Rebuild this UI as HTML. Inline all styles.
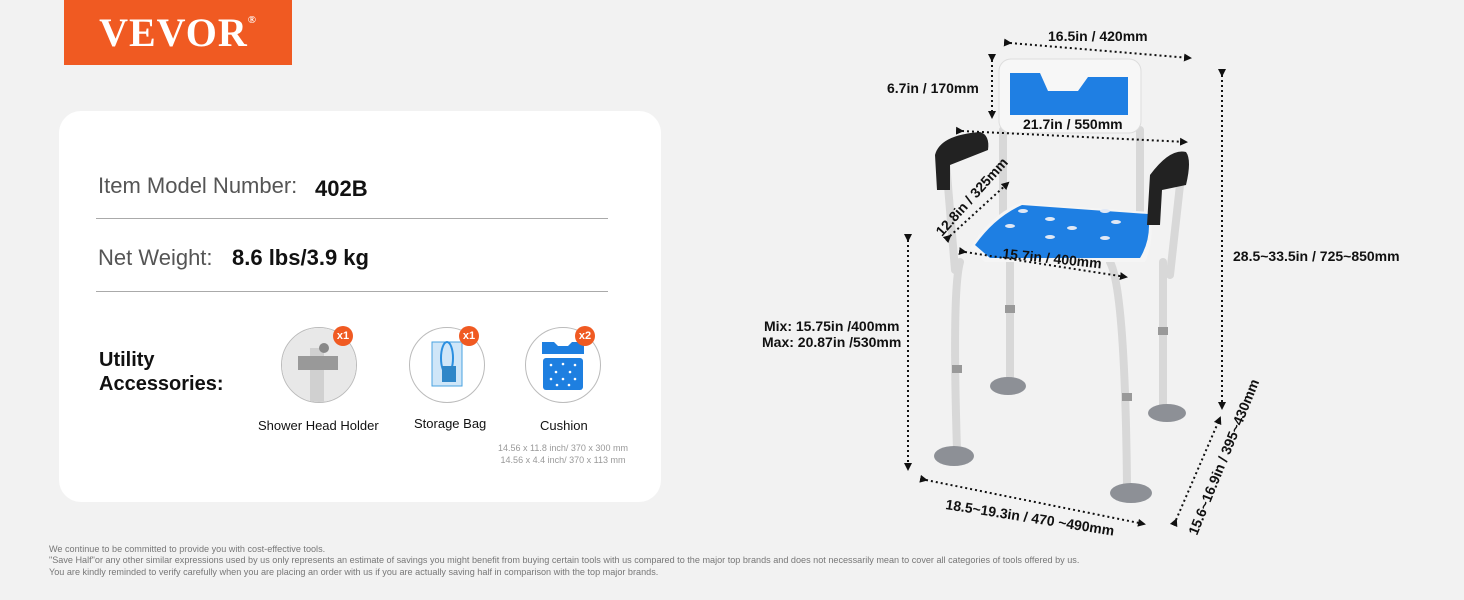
<!DOCTYPE html>
<html><head><meta charset="utf-8"><style>
body{margin:0;width:1464px;height:600px;background:#f2f2f2;font-family:"Liberation Sans",sans-serif;position:relative;overflow:hidden}
.abs{position:absolute}
.logo{left:64px;top:0;width:228px;height:65px;background:#f05a22;color:#fff;font-family:"Liberation Serif",serif;font-weight:bold;font-size:40px;line-height:65px;text-align:center;letter-spacing:1px}
.card{left:59px;top:111px;width:602px;height:391px;background:#fff;border-radius:22px}
.lab{font-size:22px;color:#555}
.val{font-size:22px;font-weight:bold;color:#111}
.hr{height:1px;background:#aaa;left:96px;width:512px}
.util{left:99px;top:348px;font-size:20px;font-weight:bold;line-height:24px;color:#111}
.circ{width:74px;height:74px;border:1.5px solid #bbb;border-radius:50%;background:#fff;overflow:hidden}
.badge{width:20px;height:20px;border-radius:50%;background:#f05a22;color:#fff;font-size:11px;font-weight:bold;text-align:center;line-height:20px}
.cap{font-size:13px;color:#111}
.small{font-size:9px;color:#999;text-align:center;line-height:12px}
.foot{left:49px;top:544px;font-size:9.1px;color:#777;line-height:11.3px;white-space:nowrap}
</style></head><body>
<div class="abs logo">VEVOR<span style="font-size:11px;vertical-align:top;line-height:40px">®</span></div>
<div class="abs card"></div>
<div class="abs lab" style="left:98px;top:173px">Item Model Number:</div>
<div class="abs val" style="left:315px;top:176px">402B</div>
<div class="abs hr" style="top:218px"></div>
<div class="abs lab" style="left:98px;top:245px">Net Weight:</div>
<div class="abs val" style="left:232px;top:245px">8.6 lbs/3.9 kg</div>
<div class="abs hr" style="top:291px"></div>
<div class="abs util">Utility<br>Accessories:</div>

<div class="abs circ" style="left:281px;top:327px"><svg width="74" height="74"><rect x="0" y="0" width="74" height="74" fill="#e8e8e8"/><rect x="28" y="20" width="14" height="60" fill="#d0d0d0"/><rect x="16" y="28" width="40" height="14" fill="#999"/><circle cx="42" cy="20" r="5" fill="#888"/></svg></div>
<div class="abs badge" style="left:333px;top:326px">x1</div>
<div class="abs circ" style="left:409px;top:327px"><svg width="74" height="74"><rect x="22" y="14" width="30" height="44" fill="#cfe6f8" stroke="#4aa3e0"/><ellipse cx="37" cy="30" rx="6" ry="16" fill="none" stroke="#2b8fe0" stroke-width="2"/><rect x="32" y="38" width="14" height="16" fill="#2e86c8"/></svg></div>
<div class="abs badge" style="left:459px;top:326px">x1</div>
<div class="abs circ" style="left:525px;top:327px"><svg width="74" height="74"><path d="M16 14 h12 l4 4 h10 l4 -4 h12 v12 h-42z" fill="#1e7fe0"/><rect x="17" y="30" width="40" height="32" rx="3" fill="#1e7fe0"/><g fill="#fff"><circle cx="25" cy="37" r="1.3"/><circle cx="37" cy="36" r="1.3"/><circle cx="49" cy="37" r="1.3"/><circle cx="30" cy="44" r="1.3"/><circle cx="44" cy="44" r="1.3"/><circle cx="25" cy="51" r="1.3"/><circle cx="37" cy="51" r="1.3"/><circle cx="49" cy="51" r="1.3"/><circle cx="31" cy="57" r="1.3"/><circle cx="43" cy="57" r="1.3"/></g></svg></div>
<div class="abs badge" style="left:575px;top:326px">x2</div>
<div class="abs cap" style="left:258px;top:418px">Shower Head Holder</div>
<div class="abs cap" style="left:414px;top:416px">Storage Bag</div>
<div class="abs cap" style="left:540px;top:418px">Cushion</div>
<div class="abs small" style="left:488px;top:442px;width:150px">14.56 x 11.8 inch/ 370 x 300 mm<br>14.56 x 4.4 inch/ 370 x 113 mm</div>

<div class="abs foot">We continue to be committed to provide you with cost-effective tools.<br>"Save Half"or any other similar expressions used by us only represents an estimate of savings you might benefit from buying certain tools with us compared to the major top brands and does not necessarily mean to cover all categories of tools offered by us.<br>You are kindly reminded to verify carefully when you are placing an order with us if you are actually saving half in comparison with the top major brands.</div>

<svg class="abs" style="left:0;top:0" width="1464" height="600">
<defs><marker id="a" markerWidth="8" markerHeight="8" refX="6" refY="4" orient="auto" markerUnits="userSpaceOnUse"><path d="M0,0 L8,4 L0,8z" fill="#111"/></marker></defs>
<g stroke="#d8d8d8" stroke-width="8" stroke-linecap="round" fill="none">
<line x1="1010" y1="262" x2="1010" y2="380"/><line x1="1163" y1="262" x2="1163" y2="405"/>
<path d="M960 262 Q952 290 957 450"/><path d="M1110 262 Q1125 290 1127 485"/>
<line x1="1003" y1="130" x2="1003" y2="220"/><line x1="1140" y1="130" x2="1140" y2="220"/>
<path d="M945 150 L955 270"/><path d="M1180 185 L1170 275"/>
</g>
<g fill="#999"><rect x="952" y="365" width="10" height="8"/><rect x="1005" y="305" width="10" height="8"/><rect x="1122" y="393" width="10" height="8"/><rect x="1158" y="327" width="10" height="8"/></g>
<g fill="#8d9096"><ellipse cx="954" cy="456" rx="20" ry="10"/><ellipse cx="1008" cy="386" rx="18" ry="9"/><ellipse cx="1167" cy="413" rx="19" ry="9"/><ellipse cx="1131" cy="493" rx="21" ry="10"/></g>
<rect x="999" y="59" width="142" height="74" rx="12" fill="#f7f7f7" stroke="#ddd"/>
<path d="M1010 73 h30 l8 18 h30 l10 -14 h40 v38 h-118z" fill="#1f7fe3"/>
<path d="M970 248 Q990 215 1020 203 L1150 212 Q1155 240 1145 262 L985 262 Z" fill="#f5f5f5"/>
<path d="M975 245 Q995 217 1022 205 L1148 214 Q1152 238 1140 258 L990 258 Z" fill="#1e7fe3"/>
<g fill="#e0e8f5"><ellipse cx="1023" cy="211" rx="5" ry="2"/><ellipse cx="1050" cy="219" rx="5" ry="2"/><ellipse cx="1105" cy="211" rx="5" ry="2"/><ellipse cx="1010" cy="226" rx="5" ry="2"/><ellipse cx="1072" cy="228" rx="5" ry="2"/><ellipse cx="1116" cy="222" rx="5" ry="2"/><ellipse cx="1050" cy="237" rx="5" ry="2"/><ellipse cx="1105" cy="238" rx="5" ry="2"/></g>
<path d="M937 190 L935 155 Q940 135 980 132 Q990 135 988 150 L950 165 L950 190z" fill="#222"/>
<path d="M1147 225 L1150 175 Q1170 148 1186 152 Q1192 160 1186 185 L1162 190 L1160 225z" fill="#222"/>
<g stroke="#111" stroke-width="2" stroke-dasharray="2 3" fill="none" marker-start="url(#a)" marker-end="url(#a)">
<line x1="1010" y1="43" x2="1190" y2="58"/>
<line x1="992" y1="60" x2="992" y2="117"/>
<line x1="962" y1="131" x2="1186" y2="142"/>
<line x1="1222" y1="75" x2="1222" y2="408"/>
<line x1="950" y1="236" x2="1008" y2="183"/>
<line x1="965" y1="252" x2="1126" y2="277"/>
<line x1="908" y1="240" x2="908" y2="469"/>
<line x1="926" y1="480" x2="1144" y2="524"/>
<line x1="1176" y1="520" x2="1220" y2="418"/>
</g>
<g font-family="Liberation Sans,sans-serif" font-weight="bold" font-size="14" fill="#111">
<text x="1048" y="41">16.5in / 420mm</text>
<text x="887" y="93">6.7in / 170mm</text>
<text x="1023" y="129">21.7in / 550mm</text>
<text x="1002" y="258" transform="rotate(6 1002 258)">15.7in / 400mm</text>
<text x="1233" y="261">28.5~33.5in / 725~850mm</text>
<text x="764" y="331">Mix: 15.75in /400mm</text>
<text x="762" y="347">Max: 20.87in /530mm</text>
<text x="942" y="237" transform="rotate(-48 942 237)">12.8in / 325mm</text>
<text x="945" y="509" transform="rotate(9 945 509)">18.5~19.3in / 470  ~490mm</text>
<text x="1197" y="536" transform="rotate(-68 1197 536)">15.6~16.9in / 395~430mm</text>
</g>
</svg>
</body></html>
